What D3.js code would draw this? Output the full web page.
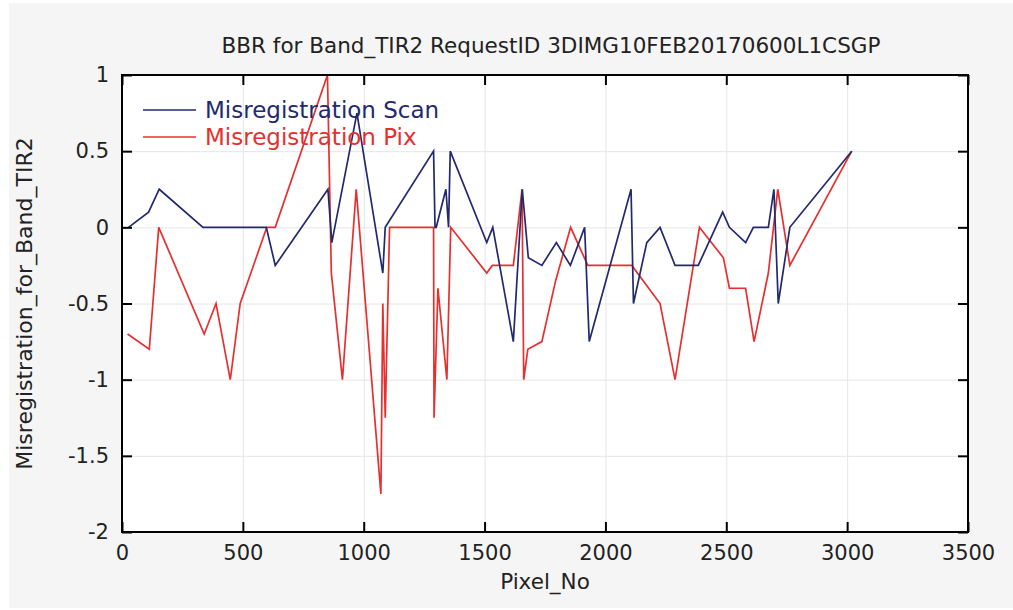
<!DOCTYPE html>
<html>
<head>
<meta charset="utf-8">
<script src="https://cdn.jsdelivr.net/npm/d3@7"></script>
<style>
  body { margin: 0; background: #fff; }
  svg { display: block; font-family: "DejaVu Sans", sans-serif; }
  .grid line { stroke: #e6e6e6; }
  .grid .domain { display: none; }
  .axis .domain { display: none; }
  .axis line { stroke: #000; stroke-width: 2; }
  .axis text { font-size: 21px; fill: #222; font-family: "DejaVu Sans", sans-serif; }
</style>
</head>
<body>
<div id="chart"></div>
<script>
'use strict';

const title = 'BBR for Band_TIR2 RequestID 3DIMG10FEB20170600L1CSGP';
const xLabel = 'Pixel_No';
const yLabel = 'Misregistration_for_Band_TIR2';
const seriesNames = ['Misregistration Scan', 'Misregistration Pix'];
const seriesColors = ['#22296f', '#e6302f'];

const xTicks = [0, 500, 1000, 1500, 2000, 2500, 3000, 3500];
const yTicks = [1, 0.5, 0, -0.5, -1, -1.5, -2];

const scanX = [27, 110, 154, 335, 597, 634, 852, 868, 972, 1079, 1089, 1289, 1295, 1300, 1340, 1351, 1358,
  1509, 1534, 1619, 1656, 1681, 1737, 1797, 1855, 1914, 1933, 2106, 2116, 2171, 2226, 2288, 2384,
  2485, 2513, 2580, 2612, 2674, 2697, 2715, 2763, 3019];
const scanY = [0, 0.1, 0.25, 0, 0, -0.25, 0.25, -0.1, 0.75, -0.3, 0, 0.5, 0, 0, 0.25, 0, 0.5,
  -0.1, 0, -0.75, 0.25, -0.2, -0.25, -0.1, -0.25, 0, -0.75, 0.25, -0.5, -0.1, 0, -0.25, -0.25,
  0.1, 0, -0.1, 0, 0, 0.25, -0.5, 0, 0.5];

const pixX = [23, 113, 152, 340, 389, 448, 489, 599, 634, 850, 866, 912, 969, 1071, 1079, 1089, 1107,
  1289, 1291, 1307, 1344, 1360, 1509, 1532, 1619, 1655, 1662, 1679, 1737, 1794, 1856, 1927, 2109,
  2226, 2288, 2389, 2488, 2513, 2580, 2615, 2674, 2713, 2763, 3019];
const pixY = [-0.7, -0.8, 0, -0.7, -0.5, -1, -0.5, 0, 0, 1, -0.3, -1, 0.25, -1.75, -0.5, -1.25, 0,
  0, -1.25, -0.4, -1, 0, -0.3, -0.25, -0.25, 0.25, -1, -0.8, -0.75, -0.35, 0, -0.25, -0.25,
  -0.5, -1, 0, -0.2, -0.4, -0.4, -0.75, -0.3, 0.25, -0.25, 0.5];

const W = 1013, H = 610;
const plot = { left: 122, top: 75, right: 968, bottom: 532 };

const $svg = d3.select('#chart').append('svg').attr('width', W).attr('height', H);

$svg.append('rect').attr('x', 9).attr('y', 3).attr('width', W - 9).attr('height', H - 5)
  .attr('fill', '#f5f5f5');

const x = d3.scaleLinear().domain([0, 3500]).range([plot.left, plot.right]);
const y = d3.scaleLinear().domain([-2, 1]).range([plot.bottom, plot.top]);

$svg.append('rect')
  .attr('x', plot.left).attr('y', plot.top)
  .attr('width', plot.right - plot.left).attr('height', plot.bottom - plot.top)
  .attr('fill', '#fff');

// grid
$svg.append('g').attr('class', 'grid')
  .attr('transform', `translate(0,${plot.bottom})`)
  .call(d3.axisBottom(x).tickValues(xTicks).tickSize(-(plot.bottom - plot.top)).tickFormat(''));
$svg.append('g').attr('class', 'grid')
  .attr('transform', `translate(${plot.left},0)`)
  .call(d3.axisLeft(y).tickValues(yTicks).tickSize(-(plot.right - plot.left)).tickFormat(''));

// series
const line = d3.line().x((d) => x(d[0])).y((d) => y(d[1]));
const series = [
  scanX.map((v, i) => [v, scanY[i]]),
  pixX.map((v, i) => [v, pixY[i]])
];

[1, 0].forEach((k) => {
  $svg.append('path')
    .datum(series[k])
    .attr('fill', 'none')
    .attr('stroke', seriesColors[k])
    .attr('stroke-width', 1.7)
    .attr('d', line);
});

// axes, ticks pointing inward
$svg.append('g').attr('class', 'axis')
  .attr('transform', `translate(0,${plot.bottom})`)
  .call(d3.axisBottom(x).tickValues(xTicks).tickSize(-10).tickPadding(13).tickFormat(d3.format('d')));
$svg.append('g').attr('class', 'axis')
  .attr('transform', `translate(${plot.left},0)`)
  .call(d3.axisLeft(y).tickValues(yTicks).tickSize(-10).tickPadding(13).tickFormat((d) => String(d)));
$svg.append('g').attr('class', 'axis')
  .attr('transform', `translate(0,${plot.top})`)
  .call(d3.axisTop(x).tickValues(xTicks).tickSize(-10).tickFormat(''));
$svg.append('g').attr('class', 'axis')
  .attr('transform', `translate(${plot.right},0)`)
  .call(d3.axisRight(y).tickValues(yTicks).tickSize(-10).tickFormat(''));

// frame
$svg.append('rect')
  .attr('x', plot.left).attr('y', plot.top)
  .attr('width', plot.right - plot.left).attr('height', plot.bottom - plot.top)
  .attr('fill', 'none').attr('stroke', '#000').attr('stroke-width', 2);

// legend
const $legend = $svg.append('g');
seriesNames.forEach((name, i) => {
  const ly = 110 + i * 27;
  $legend.append('line')
    .attr('x1', 143).attr('x2', 196).attr('y1', ly).attr('y2', ly)
    .attr('stroke', seriesColors[i]).attr('stroke-width', 1.7);
  $legend.append('text')
    .attr('x', 205).attr('y', ly + 8)
    .attr('fill', seriesColors[i])
    .style('font-size', '23px')
    .text(name);
});

// title and labels
$svg.append('text')
  .attr('x', 551).attr('y', 53)
  .attr('text-anchor', 'middle')
  .attr('fill', '#222')
  .style('font-size', '21.5px')
  .text(title);

$svg.append('text')
  .attr('x', 545).attr('y', 589)
  .attr('text-anchor', 'middle')
  .attr('fill', '#222')
  .style('font-size', '21.5px')
  .text(xLabel);

$svg.append('text')
  .attr('transform', `translate(32,${(plot.top + plot.bottom) / 2}) rotate(-90)`)
  .attr('text-anchor', 'middle')
  .attr('fill', '#222')
  .style('font-size', '22px')
  .text(yLabel);
</script>
</body>
</html>
